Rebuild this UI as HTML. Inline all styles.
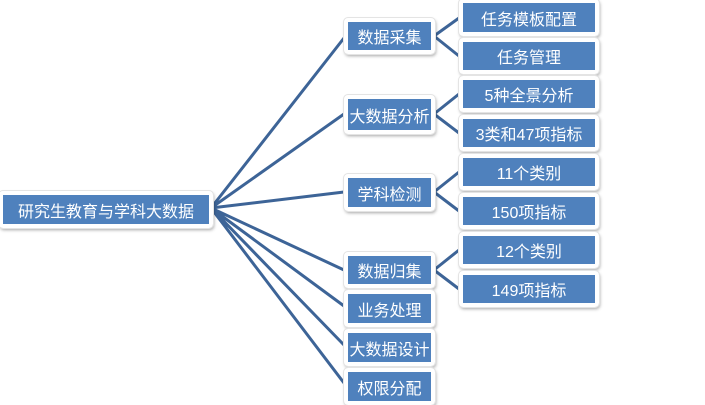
<!DOCTYPE html>
<html><head><meta charset="utf-8"><style>
body{margin:0;width:705px;height:403px;background:#fff;position:relative;overflow:hidden;font-family:"Liberation Sans","Noto Sans CJK SC",sans-serif}
.b{position:absolute;background:#4f81bd;color:#fff;font-size:16px;display:flex;align-items:center;justify-content:center;white-space:nowrap;border:4px solid #fff;border-radius:4px;box-shadow:1px 2px 3px rgba(0,0,0,.35);box-sizing:content-box;outline:1px solid #e4e4e4;outline-offset:0}
svg{position:absolute;left:0;top:0}
</style></head><body>
<svg width="705" height="403"><g stroke="#3d6497" stroke-width="3" fill="none">
<path d="M211 208L344 38M211 208L344 114M211 208L344 192M211 208L344 270M211 208L344 306M211 208L344 345M211 208L344 383"/>
<path d="M434 36L459 18M434 36L459 56M434 114L459 94M434 114L459 133M434 192L459 172M434 192L459 211M434 270L459 250M434 270L459 289"/>
</g></svg>
<div class="b" style="left:-1px;top:191px;width:206px;height:29px">研究生教育与学科大数据</div>
<div class="b" style="left:344px;top:18px;width:83px;height:28px">数据采集</div>
<div class="b" style="left:344px;top:95px;width:83px;height:31px">大数据分析</div>
<div class="b" style="left:344px;top:174px;width:83px;height:29px">学科检测</div>
<div class="b" style="left:344px;top:252px;width:83px;height:28px">数据归集</div>
<div class="b" style="left:344px;top:290px;width:83px;height:29px">业务处理</div>
<div class="b" style="left:344px;top:329px;width:83px;height:29px">大数据设计</div>
<div class="b" style="left:344px;top:368px;width:83px;height:29px">权限分配</div>
<div class="b" style="left:459px;top:-1px;width:132px;height:29px">任务模板配置</div>
<div class="b" style="left:459px;top:38px;width:132px;height:28px">任务管理</div>
<div class="b" style="left:459px;top:76px;width:132px;height:28px">5种全景分析</div>
<div class="b" style="left:459px;top:115px;width:132px;height:28px">3类和47项指标</div>
<div class="b" style="left:459px;top:154px;width:132px;height:28px">11个类别</div>
<div class="b" style="left:459px;top:193px;width:132px;height:28px">150项指标</div>
<div class="b" style="left:459px;top:232px;width:132px;height:28px">12个类别</div>
<div class="b" style="left:459px;top:271px;width:132px;height:28px">149项指标</div>
</body></html>
